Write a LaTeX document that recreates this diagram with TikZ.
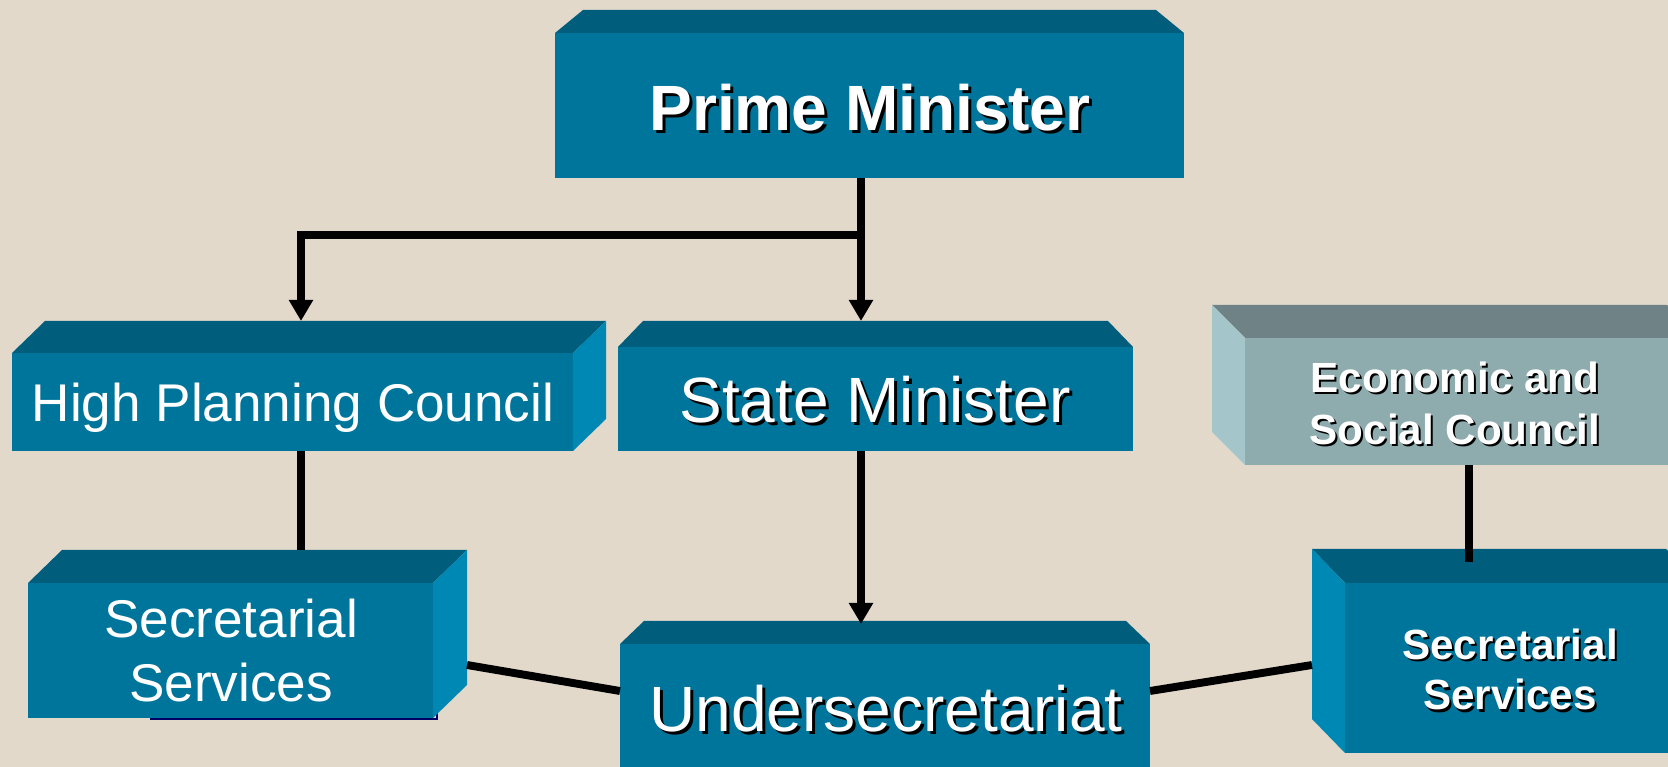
\documentclass[tikz,border=0pt]{standalone}
\usepackage{fontspec}
\setmainfont{Liberation Sans}
\usetikzlibrary{arrows.meta,fit,calc}
\definecolor{bg}{RGB}{226,217,203}
\definecolor{bfront}{RGB}{0,117,155}
\definecolor{btop}{RGB}{0,94,124}
\definecolor{bside}{RGB}{0,136,181}
\definecolor{gfront}{RGB}{142,171,173}
\definecolor{gtop}{RGB}{111,131,134}
\definecolor{gside}{RGB}{164,197,201}
\newcommand\stxt[5]{%
  \node[lbl, text=black, font=#3] at ($#2+(#5,#5)$) {#4};
  \node[lbl, text=white, font=#3] (#1) at #2 {#4};}
\newcommand\ptxt[4]{%
  \node[lbl, text=white, font=#3] (#1) at #2 {#4};}
\begin{document}
\begin{tikzpicture}[x=0.01cm,y=-0.01cm,
  face/.style={inner sep=0, outer sep=0, draw=none},
  lbl/.style={anchor=base, inner sep=0, outer sep=0},
  conn/.style={line width=2.25pt, draw=black},
  arr/.style={conn, -{Triangle[length=0.21cm,width=0.23cm]}}]
\useasboundingbox (0,0) rectangle (1668,767);
\fill[bg] (0,0) rectangle (1668,767);
\begin{scope}
\clip (0,0) rectangle (1668,767);
% Prime Minister
\node[face, fill=bfront, fit={(555,33) (1184,178)}] (pm) {};
\fill[btop] (555,33) -- (1184,33) -- (1156,10) -- (583,10) -- cycle;
% High Planning Council
\node[face, fill=bfront, fit={(12,353) (573,451)}] (hpc) {};
\fill[btop] (12,353) -- (573,353) -- (606,321) -- (45,321) -- cycle;
\fill[bside] (573,353) -- (606,321) -- (606,419) -- (573,451) -- cycle;
% State Minister
\node[face, fill=bfront, fit={(618,347) (1133,451)}] (sm) {};
\fill[btop] (618,347) -- (1133,347) -- (1108,321) -- (643,321) -- cycle;
% Left Secretarial Services
\draw[blue!40!black, line width=0.6pt] (150,719) -- (437,719) -- (437,710);
\node[face, fill=bfront, fit={(28,583) (433,718)}] (ls) {};
\fill[btop] (28,583) -- (433,583) -- (467,550) -- (62,550) -- cycle;
\fill[bside] (433,583) -- (467,550) -- (467,685) -- (433,718) -- cycle;
% Undersecretariat
\node[face, fill=bfront, fit={(620,644) (1150,790)}] (us) {};
\fill[btop] (620,644) -- (1150,644) -- (1126,621) -- (644,621) -- cycle;
% Economic and Social Council
\node[face, fill=gfront, fit={(1245,338) (1700,465)}] (esc) {};
\fill[gtop] (1245,338) -- (1700,338) -- (1667,305) -- (1212,305) -- cycle;
\fill[gside] (1245,338) -- (1212,305) -- (1212,432) -- (1245,465) -- cycle;
% Right Secretarial Services
\node[face, fill=bfront, fit={(1345,583) (1700,753)}] (rs) {};
\fill[btop] (1345,583) -- (1700,583) -- (1666,549) -- (1312,549) -- cycle;
\fill[bside] (1345,583) -- (1312,549) -- (1312,719) -- (1345,753) -- cycle;
\end{scope}
% connector points
\coordinate (pmout) at (861,178);
\coordinate (split) at (861,235);
\coordinate (smin) at (861,321);
\coordinate (hpcin) at (301,321);
\coordinate (hpcout) at (301,451);
\coordinate (lsin) at (301,550);
\coordinate (smout) at (861,451);
\coordinate (usin) at (861,624);
\coordinate (lsside) at (467,665);
\coordinate (usleft) at (620,691);
\coordinate (usright) at (1150,691);
\coordinate (rsside) at (1312,665);
\coordinate (escout) at (1469,465);
\coordinate (rsin) at (1469,562);
\draw[arr] (pmout) -- (smin);
\draw[arr] (split) -- (split -| hpcin) -- (hpcin);
\draw[conn] (hpcout) -- (lsin);
\draw[arr] (smout) -- (usin);
\draw[conn] (lsside) -- (usleft);
\draw[conn] (usright) -- (rsside);
\draw[conn] (escout) -- (rsin);
% texts
\stxt{tpm}{(870,131)}{\bfseries\fontsize{18.2}{22}\selectfont}{Prime Minister}{3}
\ptxt{thpc}{(293,422)}{\fontsize{15.1}{18}\selectfont}{High Planning Council}
\stxt{tsm}{(875,423)}{\fontsize{18.2}{22}\selectfont}{State Minister}{3}
\ptxt{tls1}{(231,638)}{\fontsize{15.1}{18}\selectfont}{Secretarial}
\ptxt{tls2}{(231,702)}{\fontsize{15.1}{18}\selectfont}{Services}
\stxt{tus}{(886,732)}{\fontsize{18.2}{22}\selectfont}{Undersecretariat}{3}
\stxt{tesc1}{(1455,393)}{\bfseries\fontsize{12}{14}\selectfont}{Economic and}{2}
\stxt{tesc2}{(1455,445)}{\bfseries\fontsize{12}{14}\selectfont}{Social Council}{2}
\stxt{trs1}{(1510,660)}{\bfseries\fontsize{12}{14}\selectfont}{Secretarial}{2}
\stxt{trs2}{(1510,710)}{\bfseries\fontsize{12}{14}\selectfont}{Services}{2}
\end{tikzpicture}
\end{document}
